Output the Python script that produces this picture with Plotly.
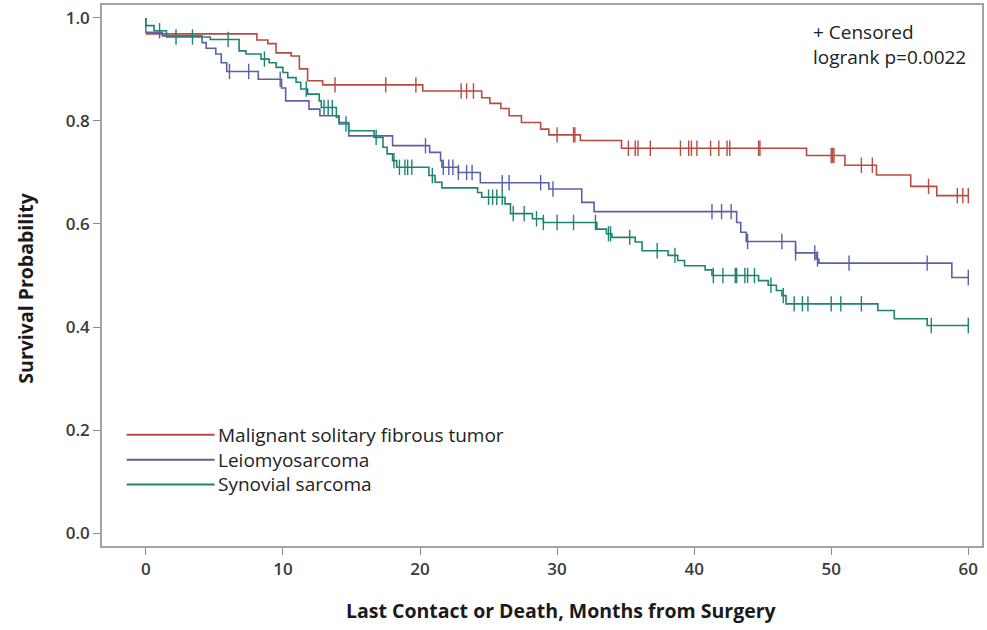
import numpy as np
import plotly.graph_objects as go

# Kaplan-Meier estimates: event times (months) and survival after each event
msft_times = [0, 8.1, 8.9, 9.5, 10.6, 11.2, 11.8, 12.9, 20.2, 24.5, 25.1, 25.9, 26.5, 27.4,
              28.8, 29.4, 31.7, 34.7, 48.2, 51.0, 53.3, 55.8, 57.7]
msft_surv = [0.969, 0.957, 0.950, 0.932, 0.926, 0.901, 0.878, 0.870, 0.858, 0.845, 0.834, 0.824,
             0.810, 0.797, 0.784, 0.773, 0.762, 0.747, 0.733, 0.714, 0.695, 0.673, 0.655]
msft_censor = [13.8, 17.5, 19.7, 23.0, 23.4, 23.9, 30.0, 31.2, 31.3, 35.2, 35.7, 35.9, 36.8,
               39.0, 39.6, 39.8, 40.2, 41.2, 41.8, 42.4, 42.6, 44.7, 44.8, 50.0, 50.1, 50.2,
               52.2, 53.0, 57.1, 59.2, 59.6, 60.0]

lms_times = [0, 1.2, 4.1, 4.4, 5.1, 5.5, 5.9, 8.2, 9.9, 10.2, 11.9, 12.7, 14.1, 14.8, 18.0,
             20.7, 21.5, 21.6, 22.8, 24.4, 29.4, 31.8, 32.7, 43.1, 43.4, 43.8, 47.4, 48.9,
             49.1, 58.8]
lms_surv = [0.972, 0.965, 0.952, 0.941, 0.930, 0.913, 0.896, 0.881, 0.864, 0.839, 0.823, 0.810,
            0.797, 0.771, 0.752, 0.739, 0.723, 0.710, 0.700, 0.680, 0.668, 0.642, 0.624, 0.603,
            0.584, 0.566, 0.544, 0.532, 0.524, 0.496]
lms_censor = [6.1, 7.5, 9.8, 20.4, 21.7, 22.1, 22.4, 22.8, 23.4, 23.8, 26.0, 26.5, 28.8, 29.7,
              41.3, 42.0, 42.7, 43.9, 46.4, 47.4, 48.8, 49.0, 51.3, 57.0, 60.0]

ss_times = [0, 0, 0.6, 1.5, 4.7, 6.8, 7.3, 8.4, 9.0, 9.5, 10.0, 10.35, 10.96, 11.3, 11.8, 12.65,
            12.8, 13.9, 14.1, 14.8, 16.65, 17.3, 17.6, 18.0, 18.3, 20.65, 21.1, 21.6, 24.2, 24.5,
            26.2, 26.6, 28.2, 29.0, 32.9, 33.6, 34.0, 35.7, 36.2, 38.1, 38.8, 39.3, 40.8, 41.3,
            44.7, 45.4, 46.0, 46.4, 46.7, 53.4, 54.6, 57.0]
ss_surv = [1.0, 0.985, 0.975, 0.963, 0.958, 0.936, 0.930, 0.920, 0.913, 0.904, 0.894, 0.884,
           0.875, 0.862, 0.852, 0.839, 0.826, 0.807, 0.794, 0.781, 0.768, 0.749, 0.736, 0.723,
           0.710, 0.694, 0.681, 0.670, 0.661, 0.652, 0.639, 0.620, 0.610, 0.603, 0.590, 0.581,
           0.574, 0.565, 0.548, 0.539, 0.529, 0.519, 0.511, 0.500, 0.490, 0.481, 0.471, 0.461,
           0.445, 0.432, 0.416, 0.403]
ss_censor = [0.0, 1.0, 2.2, 3.4, 6.0, 8.65, 11.7, 13.0, 13.3, 13.6, 14.6, 16.8, 18.1, 18.5,
             18.9, 19.1, 19.4, 20.9, 25.0, 25.3, 25.6, 26.0, 26.8, 27.6, 28.5, 29.0, 30.0,
             31.2, 32.8, 33.75, 33.9, 35.3, 37.3, 38.6, 41.4, 42.1, 43.0, 43.1, 43.7, 43.9,
             44.4, 45.6, 46.5, 47.3, 47.9, 48.3, 50.0, 50.7, 52.2, 57.3, 60.0]

groups = [
    ("Malignant solitary fibrous tumor", msft_times, msft_surv, msft_censor, "#b84a40"),
    ("Leiomyosarcoma", lms_times, lms_surv, lms_censor, "#5a60a8"),
    ("Synovial sarcoma", ss_times, ss_surv, ss_censor, "#1d8470"),
]
END_TIME = 60.0


def surv_at(times, surv, t):
    # right-continuous step lookup
    idx = np.searchsorted(np.asarray(times), t, side="right") - 1
    return surv[max(idx, 0)]


fig = go.Figure()
FONT = "Open Sans, Segoe UI, sans-serif"
TEXT_SIZE = 19

for name, times, surv, cens, color in groups:
    xs = list(times) + [END_TIME]
    ys = list(surv) + [surv[-1]]
    fig.add_trace(go.Scatter(x=xs, y=ys, mode="lines", line=dict(color=color, width=1.6, shape="hv"),
                             name=name, showlegend=False, hoverinfo="skip"))
    fig.add_trace(go.Scatter(x=cens, y=[surv_at(times, surv, c) for c in cens], mode="markers",
                             marker=dict(symbol="line-ns", size=11, line=dict(color=color, width=1.4)),
                             showlegend=False, hoverinfo="skip"))

# Legend drawn inside the plot, lower left: one line sample per group and a stacked label block
legend_y = [0.2055, 0.1596, 0.1137]
for (name, _, _, _, color), ly in zip(groups, legend_y):
    fig.add_shape(type="line", xref="paper", yref="paper", x0=0.028, x1=0.128, y0=ly, y1=ly,
                  line=dict(color=color, width=2))
fig.add_annotation(xref="paper", yref="paper", x=0.129, y=legend_y[1],
                   text="<br>".join(g[0] for g in groups), showarrow=False, align="left",
                   xanchor="left", yanchor="middle",
                   font=dict(family=FONT, size=TEXT_SIZE, color="#222"))

fig.add_annotation(xref="paper", yref="paper", x=0.806, y=0.927,
                   text="+ Censored<br>logrank p=0.0022", showarrow=False, align="left",
                   xanchor="left", yanchor="middle", font=dict(family=FONT, size=TEXT_SIZE, color="#222"))

# Axis titles
fig.add_annotation(xref="paper", yref="paper", x=0.5227, y=-0.12,
                   text="<b>Last Contact or Death, Months from Surgery</b>", showarrow=False,
                   xanchor="center", yanchor="middle", font=dict(family=FONT, size=19.5, color="#1a1a1a"))
fig.add_annotation(xref="paper", yref="paper", x=-0.0873, y=0.476,
                   text="<b>Survival Probability</b>", showarrow=False, textangle=-90,
                   xanchor="center", yanchor="middle", font=dict(family=FONT, size=19.5, color="#1a1a1a"))

axis_common = dict(showline=True, mirror=True, linecolor="#a3a3a3", linewidth=1.5, showgrid=False,
                   zeroline=False, ticks="outside", ticklen=7, tickcolor="#8a8a8a", tickwidth=1,
                   tickfont=dict(family=FONT, size=17, color="#3a3a3a", weight=600))

fig.update_layout(
    width=987, height=630,
    margin=dict(l=102, r=3, t=4, b=84),
    paper_bgcolor="white", plot_bgcolor="white",
    xaxis=dict(range=[-3.2, 61.0], tickvals=[0, 10, 20, 30, 40, 50, 60], **axis_common),
    yaxis=dict(range=[-0.025, 1.025], tickvals=[0, 0.2, 0.4, 0.6, 0.8, 1.0], tickformat=".1f",
               **axis_common),
)

fig.write_html("out.html")
